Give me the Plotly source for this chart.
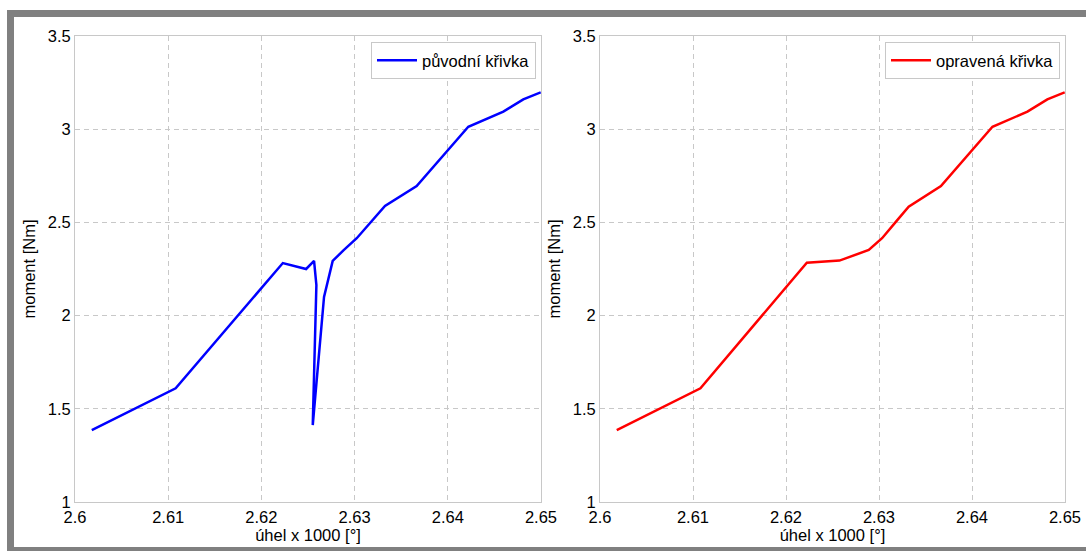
import plotly.graph_objects as go

# original curve (with spike)
x_orig = [2.6018, 2.6108, 2.6223, 2.6248, 2.62565, 2.6259, 2.62551, 2.62672, 2.62765,
          2.6288, 2.63023, 2.63183, 2.63326, 2.63666, 2.6422, 2.64596, 2.6481, 2.64997]
y_orig = [1.386, 1.61, 2.282, 2.25, 2.293, 2.164, 1.413, 2.10, 2.293,
          2.35, 2.415, 2.504, 2.588, 2.695, 3.013, 3.094, 3.16, 3.198]

# corrected curve
x_corr = [2.6018, 2.6108, 2.62224, 2.62575, 2.6289, 2.63033, 2.63183, 2.63319,
          2.63666, 2.6422, 2.64596, 2.6481, 2.64997]
y_corr = [1.386, 1.61, 2.284, 2.295, 2.352, 2.415, 2.504, 2.584,
          2.695, 3.013, 3.094, 3.16, 3.198]

x_ticks = [2.6, 2.61, 2.62, 2.63, 2.64, 2.65]
x_ticklabels = ["2.6", "2.61", "2.62", "2.63", "2.64", "2.65"]
y_ticks = [1, 1.5, 2, 2.5, 3, 3.5]
y_ticklabels = ["1", "1.5", "2", "2.5", "3", "3.5"]

name_orig = "původní křivka"
name_corr = "opravená křivka"
x_title = "úhel x 1000 [°]"
y_title = "moment [Nm]"

W, H = 1086, 551
FONT = "Liberation Sans, Arial, sans-serif"
FS = 16.5

fig = go.Figure()
fig.add_trace(go.Scatter(x=x_orig, y=y_orig, mode="lines", name=name_orig,
                         line=dict(color="#0000ff", width=2.5), xaxis="x", yaxis="y",
                         legend="legend"))
fig.add_trace(go.Scatter(x=x_corr, y=y_corr, mode="lines", name=name_corr,
                         line=dict(color="#ff0000", width=2.5), xaxis="x2", yaxis="y2",
                         legend="legend2"))

y_dom = [(H - 502) / H, (H - 36) / H]
dom1 = [75 / W, 541 / W]
dom2 = [600 / W, 1065 / W]

GRID = "#c8c8c8"
common_x = dict(range=[2.6, 2.65], tickvals=x_ticks, ticktext=x_ticklabels,
                showgrid=True, gridcolor=GRID, griddash="5px,4px", gridwidth=1,
                showline=True, linecolor="#c8c8c8", linewidth=1, mirror=True,
                zeroline=False, ticks="", tickfont=dict(size=FS, color="#000000", family=FONT),
                title=dict(text=x_title, font=dict(size=FS, color="#000000", family=FONT), standoff=1),
                automargin=False, fixedrange=True)
common_y = dict(range=[1, 3.5], tickvals=y_ticks, ticktext=y_ticklabels,
                showgrid=True, gridcolor=GRID, griddash="5px,4px", gridwidth=1,
                showline=True, linecolor="#c8c8c8", linewidth=1, mirror=True,
                zeroline=False, ticks="", tickfont=dict(size=FS, color="#000000", family=FONT),
                title=dict(text=y_title, font=dict(size=FS, color="#000000", family=FONT), standoff=7),
                automargin=False, fixedrange=True, domain=y_dom)

legend_common = dict(bgcolor="#ffffff", bordercolor="#c8c8c8", borderwidth=1,
                     font=dict(size=FS, color="#000000", family=FONT),
                     xanchor="right", yanchor="top", yref="paper", xref="paper",
                     itemwidth=40, tracegroupgap=0)

fig.update_layout(
    width=W, height=H,
    margin=dict(l=0, r=0, t=0, b=0),
    paper_bgcolor="#ffffff", plot_bgcolor="#ffffff",
    font=dict(family=FONT, size=FS, color="#000000"),
    xaxis=dict(common_x, domain=dom1, anchor="y"),
    yaxis=dict(common_y, anchor="x"),
    xaxis2=dict(common_x, domain=dom2, anchor="y2"),
    yaxis2=dict(common_y, anchor="x2"),
    legend=dict(legend_common, x=536 / W, y=(H - 42) / H),
    legend2=dict(legend_common, x=1060 / W, y=(H - 42) / H),
    showlegend=True,
    shapes=[
        dict(type="rect", xref="paper", yref="paper", x0=7 / W, x1=1, y0=(H - 17) / H, y1=(H - 10) / H,
             fillcolor="#808080", line=dict(width=0), layer="above"),
        dict(type="rect", xref="paper", yref="paper", x0=7 / W, x1=14 / W, y0=0, y1=(H - 10) / H,
             fillcolor="#808080", line=dict(width=0), layer="above"),
        dict(type="rect", xref="paper", yref="paper", x0=7 / W, x1=1, y0=0, y1=4 / H,
             fillcolor="#808080", line=dict(width=0), layer="above"),
    ],
)

fig.write_html("out.html", config={"displayModeBar": False},
               post_script="document.body.style.margin='0px';document.body.style.overflow='hidden';")
